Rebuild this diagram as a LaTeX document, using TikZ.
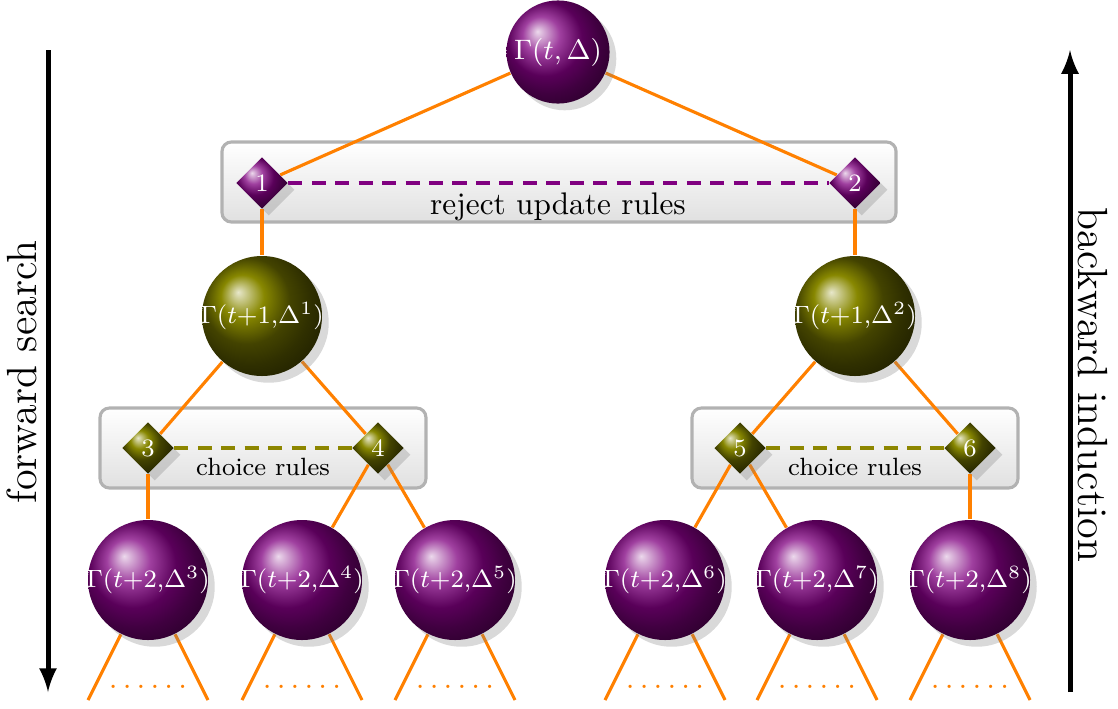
\documentclass[tikz,border=0pt]{standalone}
\usetikzlibrary{shapes.geometric,shadows,backgrounds}
\tikzset{
  ballnode/.style={circle,ball color=#1,drop shadow={opacity=.3},inner sep=0pt,minimum size=38.4pt},
  balltext/.style={text=white,font=\fontsize{8.2}{10}\selectfont,inner sep=0pt},
  rulenode/.style={diamond,ball color=#1,drop shadow={opacity=.3},text=white,font=\footnotesize,inner sep=0pt,minimum size=16.5pt},
  rulebox/.style={draw=black!30,line width=1pt,rounded corners=3pt,top color=white,bottom color=black!12,minimum height=25.6pt},
  link/.style={orange,line width=1pt},
  ruledash/.style={#1,line width=1pt,dash pattern=on 4.5pt off 3pt},
}
\colorlet{darkolive}{olive!75!black}
\begin{document}
\begin{tikzpicture}[x=0.32pt,y=-0.32pt]
\useasboundingbox (0,0) rectangle (1118,708);
% boxes round the rules
\begin{scope}[on background layer]
\node[rulebox,minimum width=215.7pt] (box1) at (559,182) {};
\node[rulebox,minimum width=104.3pt] (box2) at (263,448) {};
\node[rulebox,minimum width=104.3pt] (box3) at (855,448) {};
\end{scope}
\node (lab1) at (558,207) {reject update rules};
\node[font=\footnotesize] (lab2) at (263,467) {choice rules};
\node[font=\footnotesize] (lab3) at (855,467) {choice rules};
% states and rules
\node[ballnode=violet,minimum size=33pt,label={[balltext,font=\small]center:$\Gamma(t,\Delta)$}] (root) at (558,52) {};
\node[rulenode=violet] (d1) at (262,183) {1};
\node[rulenode=violet] (d2) at (855,183) {2};
\node[ballnode=darkolive,label={[balltext]center:$\Gamma(t{+}1{,}\Delta^1)$}] (s1) at (262,316) {};
\node[ballnode=darkolive,label={[balltext]center:$\Gamma(t{+}1{,}\Delta^2)$}] (s2) at (855,316) {};
\node[rulenode=darkolive] (d3) at (148,448) {3};
\node[rulenode=darkolive] (d4) at (378,448) {4};
\node[rulenode=darkolive] (d5) at (740,448) {5};
\node[rulenode=darkolive] (d6) at (970,448) {6};
\node[ballnode=violet,label={[balltext]center:$\Gamma(t{+}2{,}\Delta^3)$}] (t3) at (148,580) {};
\node[ballnode=violet,label={[balltext]center:$\Gamma(t{+}2{,}\Delta^4)$}] (t4) at (302,580) {};
\node[ballnode=violet,label={[balltext]center:$\Gamma(t{+}2{,}\Delta^5)$}] (t5) at (455,580) {};
\node[ballnode=violet,label={[balltext]center:$\Gamma(t{+}2{,}\Delta^6)$}] (t6) at (665,580) {};
\node[ballnode=violet,label={[balltext]center:$\Gamma(t{+}2{,}\Delta^7)$}] (t7) at (817,580) {};
\node[ballnode=violet,label={[balltext]center:$\Gamma(t{+}2{,}\Delta^8)$}] (t8) at (970,580) {};
% edges
\begin{scope}[on background layer]
\draw[ruledash=violet] (d1) -- (d2);
\draw[ruledash=olive] (d3) -- (d4);
\draw[ruledash=olive] (d5) -- (d6);
\draw[link] (root) -- (d1);
\draw[link] (root) -- (d2);
\draw[link] (d1) -- (s1);
\draw[link] (d2) -- (s2);
\draw[link] (s1) -- (d3);
\draw[link] (s1) -- (d4);
\draw[link] (s2) -- (d5);
\draw[link] (s2) -- (d6);
\draw[link] (d3) -- (t3);
\draw[link] (d4) -- (t4);
\draw[link] (d4) -- (t5);
\draw[link] (d5) -- (t6);
\draw[link] (d5) -- (t7);
\draw[link] (d6) -- (t8);
\foreach \b in {t3,t4,t5,t6,t7,t8} {
  \path (\b) ++(-60,120) coordinate (\b-l);
  \path (\b) ++(60,120) coordinate (\b-r);
  \draw[link] (\b) -- (\b-l);
  \draw[link] (\b) -- (\b-r);
  \path (\b) ++(0,108) node[anchor=base,text=orange] (\b-dots) {$\ldots\ldots$};
}
\end{scope}
% search directions
\coordinate (fwd-top) at (48,50);
\coordinate (fwd-bot) at (48,692);
\draw[ultra thick][-latex] (fwd-top) -- (fwd-bot);
\node[rotate=90,font=\fontsize{13.5}{16}\selectfont] (fwd) at (22,372) {forward search};
\coordinate (bwd-bot) at (1070,692);
\coordinate (bwd-top) at (1070,50);
\draw[ultra thick][-latex] (bwd-bot) -- (bwd-top);
\node[rotate=-90,font=\fontsize{13.5}{16}\selectfont] (bwd) at (1093,385) {backward induction};
\end{tikzpicture}
\end{document}
